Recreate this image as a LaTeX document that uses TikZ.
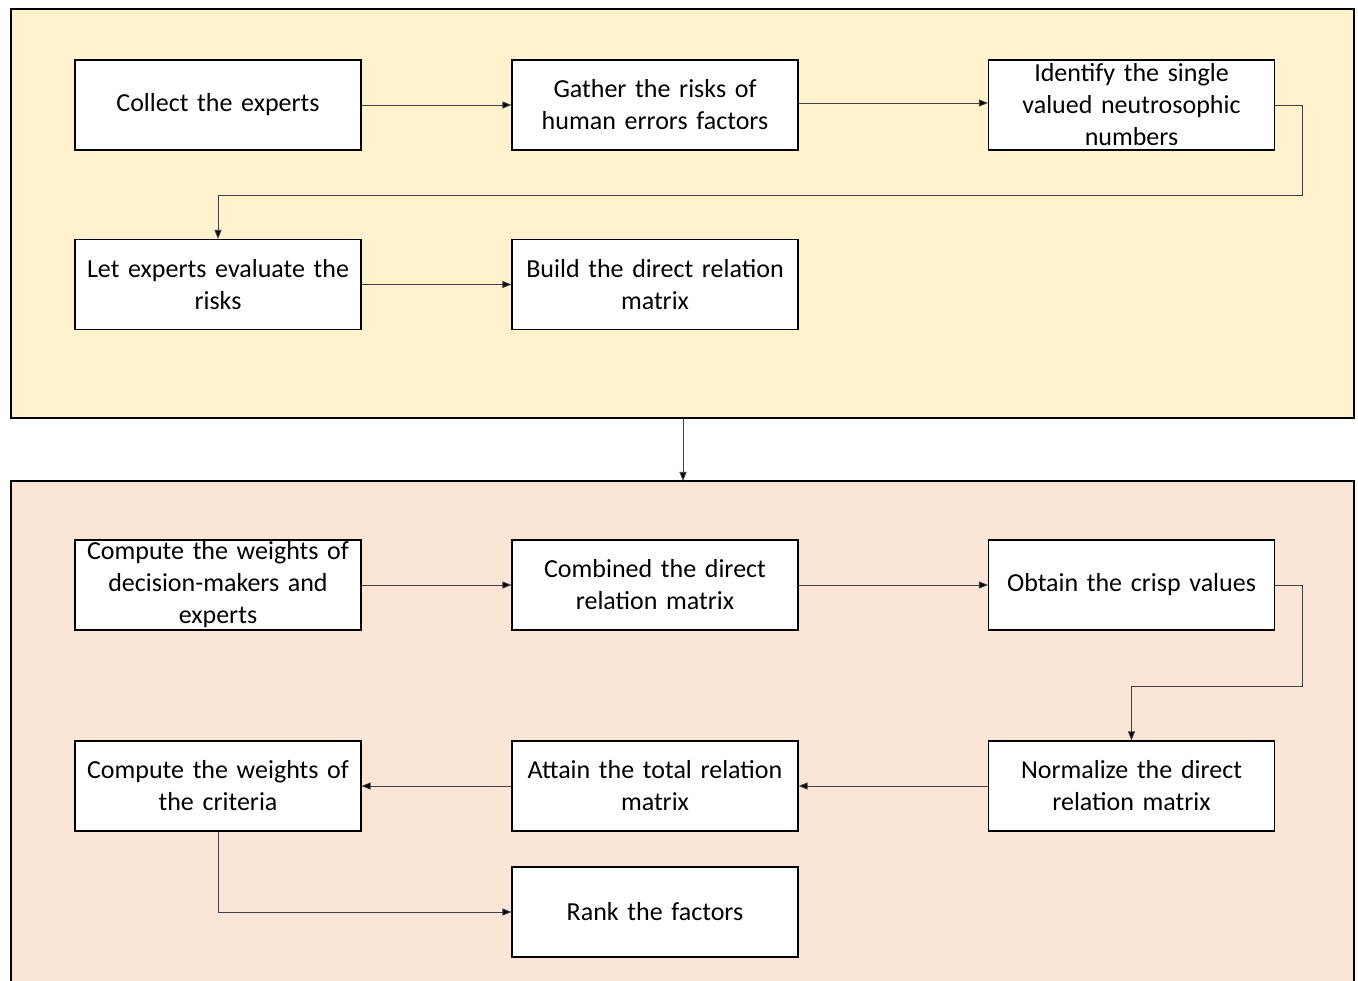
\documentclass[tikz,border=0pt]{standalone}
\usepackage{fontspec}
\setmainfont{Carlito}
\usetikzlibrary{arrows.meta}
\definecolor{topfill}{HTML}{FFF2CC}
\definecolor{botfill}{HTML}{FBE5D6}
\definecolor{linec}{HTML}{404040}
\tikzset{
  stepbox/.style={draw=black, line width=1.1pt, fill=white, minimum width=286pt, minimum height=90pt, inner sep=0pt, align=center, text width=284pt, font=\fontsize{26}{32}\selectfont},
  conn/.style={draw=linec, line width=0.8pt, -{Stealth[length=9pt,width=7pt,inset=0pt,fill=black]}},
  panel/.style={draw=black, line width=1.1pt, inner sep=0pt}
}
\begin{document}
\begin{tikzpicture}[x=1pt,y=-1pt]
\useasboundingbox (0,0) rectangle (1358,981);
% panels
\node[panel, fill=topfill, minimum width=1343pt, minimum height=409pt] (top) at (682.5,213.5) {};
\fill[botfill] (11,481) rectangle (1354,981);
\draw[line width=1.1pt] (11,983) -- (11,481) -- (1354,481) -- (1354,983);
\coordinate (bottop) at (683,481);
% top boxes
\node[stepbox] (c1) at (218,105) {Collect the experts};
\node[stepbox] (c2) at (655,105) {Gather the risks of\\human errors factors};
\node[stepbox] (c3) at (1131.5,105) {Identify the single\\valued neutrosophic\\numbers};
\node[stepbox] (c4) at (218,284.5) {Let experts evaluate the\\risks};
\node[stepbox] (c5) at (655,284.5) {Build the direct relation\\matrix};
% bottom boxes
\node[stepbox] (b1) at (218,585) {Compute the weights of\\decision-makers and\\experts};
\node[stepbox] (b2) at (655,585) {Combined the direct\\relation matrix};
\node[stepbox] (b3) at (1131.5,585) {Obtain the crisp values};
\node[stepbox] (b4) at (1131.5,786) {Normalize the direct\\relation matrix};
\node[stepbox] (b5) at (655,786) {Attain the total relation\\matrix};
\node[stepbox] (b6) at (218,786) {Compute the weights of\\the criteria};
\node[stepbox] (b7) at (655,912) {Rank the factors};
% connectors
\draw[conn] (c1.east) -- (c2.west);
\draw[conn] ([yshift=2pt]c2.east) -- ([yshift=2pt]c3.west);
\draw[conn] (c3.east) -- ++(27,0) |- (218,195) -- (c4.north);
\draw[conn] (c4.east) -- (c5.west);
\draw[conn] (top.south -| bottop) -- (bottop);
\draw[conn] (b1.east) -- (b2.west);
\draw[conn] (b2.east) -- (b3.west);
\draw[conn] (b3.east) -- ++(27,0) |- (1131.5,686) -- (b4.north);
\draw[conn] (b4.west) -- (b5.east);
\draw[conn] (b5.west) -- (b6.east);
\draw[conn] (b6.south) |- (b7.west);
\end{tikzpicture}
\end{document}
